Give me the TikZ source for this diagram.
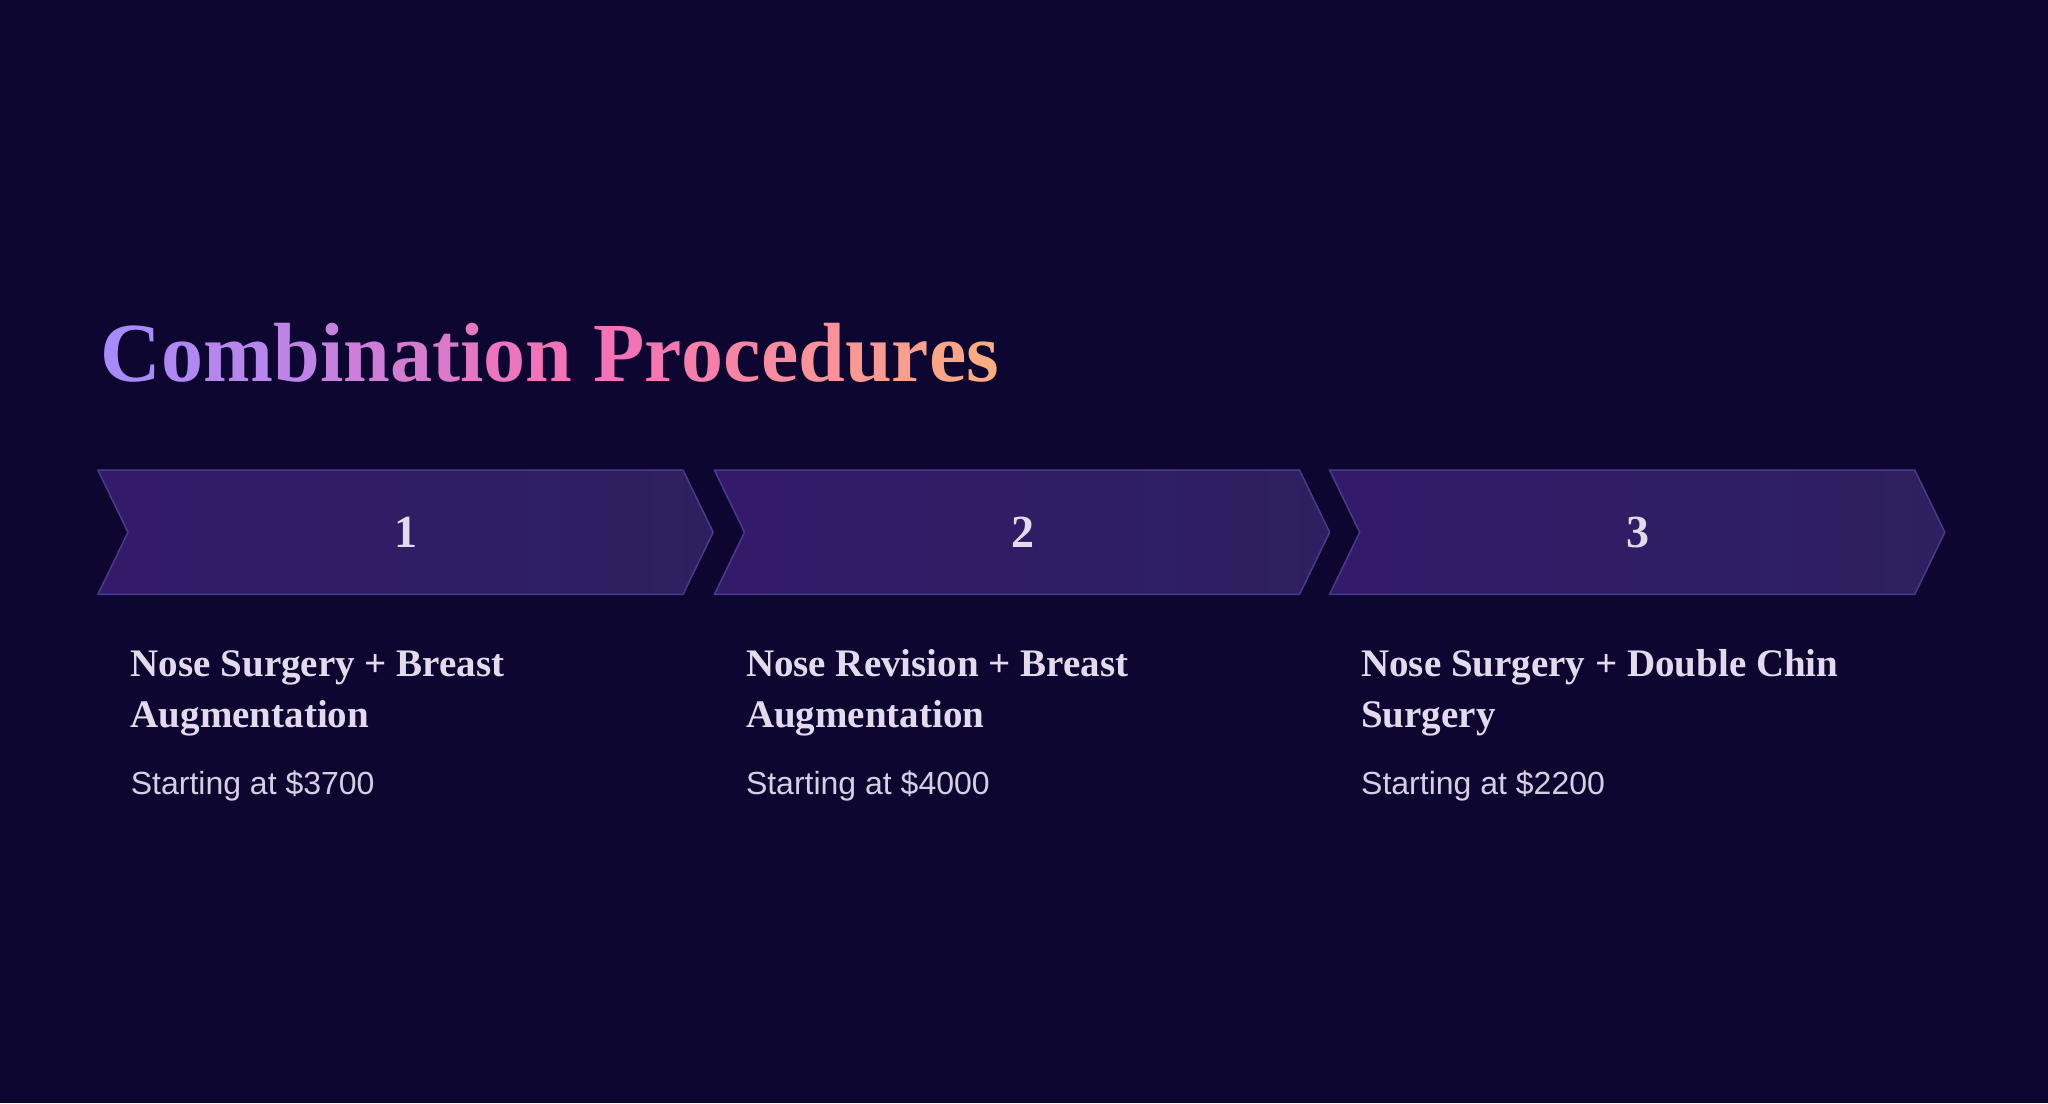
\documentclass[tikz,border=0pt]{standalone}
\usepackage{fontspec}
\setmainfont{Liberation Serif}
\setsansfont{Liberation Sans}
\usetikzlibrary{positioning}
\definecolor{bgnavy}{HTML}{0D0630}
\definecolor{gradA}{HTML}{A78BFA}
\definecolor{gradB}{HTML}{F472B6}
\definecolor{gradC}{HTML}{FDBA74}
\definecolor{chevL}{HTML}{331B6A}
\definecolor{chevR}{HTML}{2E2060}
\definecolor{chevline}{HTML}{4A3A8C}
\definecolor{headtxt}{HTML}{E4DAEE}
\definecolor{pricetxt}{HTML}{D6CEE2}
\newcommand{\gradword}[2]{% #1 start index, #2 letters
  \foreach \c [count=\k from #1] in {#2}{%
    \pgfmathtruncatemacro\p{\k<11 ? 100-\k*10 : 100-(\k-11)*9}%
    \ifnum\k<11 \colorlet{tmpc}{gradA!\p!gradB}\else\colorlet{tmpc}{gradB!\p!gradC}\fi
    \textcolor{tmpc}{\c}}}
\begin{document}
\begin{tikzpicture}[x=1.306pt,y=-1.306pt]
  \tikzset{chevron/.style={draw=chevline, line width=1.5pt, left color=chevL, right color=chevR},
           stepnum/.style={font=\fontsize{46}{50}\selectfont\bfseries, text=headtxt},
           heading/.style={font=\fontsize{39}{51}\selectfont\bfseries, text=headtxt, anchor=base west, inner sep=0, align=left},
           price/.style={font=\sffamily\fontsize{32}{36}\selectfont, text=pricetxt, anchor=base west, inner sep=0}}
  \fill[bgnavy] (0,0) rectangle (1568,844.5);
  \useasboundingbox (0,0) rectangle (1568,844.5);
  % title
  \node[anchor=base west, inner sep=0, font=\fontsize{84}{90}\selectfont\bfseries] (title) at (77,292)
    {\gradword{0}{C,o,m,b,i,n,a,t,i,o,n}\ \gradword{11}{P,r,o,c,e,d,u,r,e,s}};
  % chevrons
  \foreach \n/\x in {1/75, 2/547, 3/1018} {
    \draw[chevron] (\x,360) -- (\x+448,360) -- (\x+471,407.5) -- (\x+448,455) -- (\x,455) -- (\x+23,407.5) -- cycle;
    \node[stepnum] (step\n) at (\x+236,407.5) {\n};
  }
  % texts (anchor is the baseline of the last line)
  \node[heading] (head1) at (100,557) {Nose Surgery + Breast\\Augmentation};
  \node[heading] (head2) at (571,557) {Nose Revision + Breast\\Augmentation};
  \node[heading] (head3) at (1042,557) {Nose Surgery + Double Chin\\Surgery};
  \node[price] (price1) at (100,608) {Starting at \$3700};
  \node[price] (price2) at (571,608) {Starting at \$4000};
  \node[price] (price3) at (1042,608) {Starting at \$2200};
\end{tikzpicture}
\end{document}
